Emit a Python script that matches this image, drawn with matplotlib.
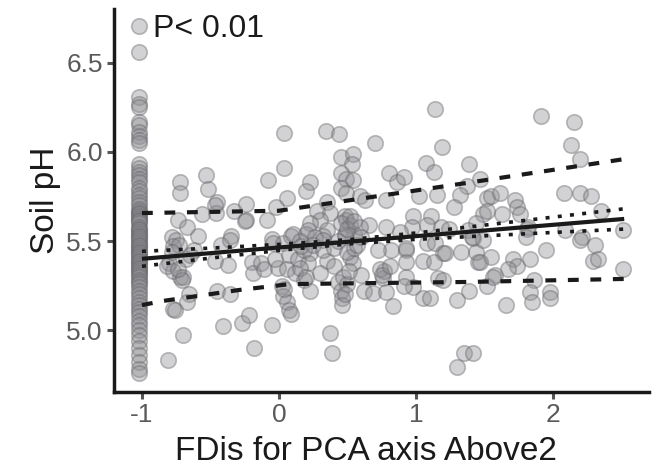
import numpy as np
import matplotlib
matplotlib.use("Agg")
import matplotlib.pyplot as plt

plt.rcParams['font.family'] = ['Liberation Sans', 'DejaVu Sans']

# sites with FDis at the lower bound (column at x ~ -1)
col_x = -1.02
col_y = [6.71, 6.56, 6.31, 6.27, 6.25, 6.17, 6.15, 6.11, 6.09, 6.07, 6.05,
         5.93, 5.91, 5.89, 5.87, 5.85, 5.83, 5.80, 5.78, 5.76, 5.74, 5.72,
         5.70, 5.68, 5.67, 5.66, 5.65, 5.64, 5.63, 5.62, 5.61, 5.60, 5.58,
         5.57, 5.56, 5.55, 5.54, 5.53, 5.52, 5.51, 5.50, 5.49, 5.48, 5.47,
         5.46, 5.45, 5.44, 5.43, 5.42, 5.41, 5.40, 5.39, 5.38, 5.37, 5.36,
         5.35, 5.34, 5.33, 5.32, 5.31, 5.30, 5.28, 5.27, 5.26, 5.24, 5.22,
         5.20, 5.18, 5.16, 5.14, 5.12, 5.10, 5.08, 5.05, 5.03, 5.00, 4.97,
         4.94, 4.90, 4.86, 4.82, 4.78, 4.76]

# remaining sites
pts_x = [-0.72, -0.53, -0.52, -0.72, -0.45, -0.56, -0.46, -0.74, -0.67, -0.59,
         -0.78, -0.35, -0.33, -0.47, -0.75, -0.77, -0.73, -0.80, -0.77, -0.72,
         -0.70, -0.82, -0.47, -0.37, -0.42, -0.36, -0.45, -0.36, -0.66, -0.67,
         -0.77, -0.76, -0.41, -0.70, -0.81, -0.62, -0.68, -0.65, -0.71, -0.78,
         -0.74, -0.24, -0.24, -0.02, 0.06, -0.09, -0.08, 0.04, 0.04, -0.05,
         -0.25, -0.27, -0.22, -0.05, -0.18, -0.20, -0.19, -0.13, -0.11, -0.04,
         0.03, -0.005, 0.02, 0.03, 0.06, 0.07, 0.09, -0.03, 0.09, 0.07,
         0.06, 0.04,
         0.34, 0.44, 0.70, 0.45, 0.54, 0.53, 0.45, 0.49, 0.54, 0.23,
         0.20, 0.45, 0.49, 0.59, 0.63, 0.35, 0.28, 0.37, 0.30, 0.23,
         0.10, 0.20, 0.35, 0.48, 0.52, 0.48, 0.55, 0.66, 0.14, 0.23,
         0.21, 0.12, 0.18, 0.23, 0.32, 0.48, 0.35, 0.40, 0.30, 0.43,
         0.45, 0.46, 0.46, 0.52, 0.54, 0.60, 0.62, 0.69, 0.37, 0.39,
         0.49, 0.52, 0.59, 0.21, 0.26, 0.32, 0.18, 0.32, 0.40, 0.50,
         0.55, 0.57, 0.45, 0.50, 0.55, 0.60, 0.43, 0.47, 0.50, 0.48,
         0.51, 0.76, 0.77, 0.15, 0.16, 0.25, 0.15, 0.20,
         0.80, 0.86, 0.91, 1.07, 1.13, 0.78, 1.02, 1.15, 0.98, 1.11,
         0.97, 1.08, 0.78, 0.74, 0.75, 0.81, 0.78, 0.83, 0.82, 0.93,
         0.93, 1.05, 0.93, 0.98, 0.91, 1.05, 1.08, 1.14, 1.20, 1.13,
         1.16, 1.20, 1.10, 0.93, 1.14, 1.19, 1.18, 0.72, 0.88,
         1.39, 1.37, 1.47, 1.32, 1.28, 1.52, 1.55, 1.61, 1.72, 1.74,
         1.76, 1.63, 1.49, 1.52, 1.44, 1.38, 1.24, 1.55, 1.45, 1.44,
         1.33, 1.58, 1.52, 1.39, 1.56, 1.30, 1.35, 1.42, 1.30, 1.71,
         1.74, 1.67, 1.66, 1.42, 1.49, 1.47, 1.41, 1.21,
         1.91, 2.15, 2.13, 2.20, 2.08, 2.20, 2.28, 2.35, 1.81, 2.09,
         2.21, 2.51, 2.51, 2.20, 2.31, 2.29, 2.33, 1.95, 1.83, 1.86,
         1.83, 1.85, 1.98, 1.98, 1.82, 1.80]
pts_y = [5.83, 5.87, 5.79, 5.77, 5.72, 5.65, 5.66, 5.62, 5.58, 5.53,
         5.52, 5.53, 5.67, 5.70, 5.505, 5.47, 5.48, 5.375, 5.33, 5.30,
         5.30, 5.36, 5.39, 5.365, 5.48, 5.505, 5.22, 5.20, 5.20, 5.16,
         5.12, 5.11, 5.02, 4.97, 4.83, 5.45, 5.40, 5.42, 5.28, 5.44,
         5.34, 5.71, 5.62, 5.69, 5.74, 5.62, 5.84, 6.105, 5.91, 5.51,
         5.61, 5.04, 5.085, 5.03, 4.90, 5.38, 5.32, 5.375, 5.34, 5.49,
         5.49, 5.35, 5.25, 5.19, 5.16, 5.11, 5.09, 5.40, 5.53, 5.42,
         5.34, 5.23,
         6.12, 6.10, 6.05, 5.97, 5.99, 5.93, 5.88, 5.85, 5.84, 5.83,
         5.78, 5.80, 5.77, 5.75, 5.73, 5.72, 5.67, 5.66, 5.62, 5.60,
         5.54, 5.54, 5.56, 5.64, 5.59, 5.54, 5.54, 5.59, 5.40, 5.43,
         5.375, 5.32, 5.28, 5.22, 5.53, 5.53, 5.39, 5.36, 5.32, 5.27,
         5.22, 5.18, 5.14, 5.41, 5.375, 5.31, 5.22, 5.21, 4.985, 4.87,
         5.62, 5.64, 5.58, 5.56, 5.52, 5.505, 5.45, 5.45, 5.46, 5.44,
         5.46, 5.48, 5.60, 5.57, 5.61, 5.52, 5.50, 5.30, 5.26, 5.20,
         5.33, 5.29, 5.33, 5.50, 5.47, 5.48, 5.35, 5.30,
         5.88, 5.83, 5.86, 5.94, 5.89, 5.73, 5.75, 5.76, 5.64, 5.64,
         5.58, 5.59, 5.58, 5.34, 5.31, 5.36, 5.215, 5.135, 5.45, 5.45,
         5.38, 5.39, 5.30, 5.24, 5.25, 5.18, 5.49, 5.49, 5.43, 5.38,
         5.29, 5.28, 5.18, 5.46, 6.24, 6.03, 5.58, 5.45, 5.55,
         5.93, 5.81, 5.85, 5.76, 5.69, 5.74, 5.75, 5.77, 5.73, 5.69,
         5.65, 5.65, 5.65, 5.67, 5.60, 5.56, 5.57, 5.41, 5.38, 5.44,
         5.44, 5.31, 5.25, 5.22, 5.30, 5.17, 4.87, 4.87, 4.79, 5.40,
         5.36, 5.34, 5.14, 5.515, 5.505, 5.38, 5.52, 5.43,
         6.20, 6.17, 6.04, 5.96, 5.77, 5.77, 5.75, 5.67, 5.57, 5.56,
         5.52, 5.56, 5.34, 5.505, 5.48, 5.39, 5.40, 5.45, 5.40, 5.28,
         5.215, 5.16, 5.215, 5.18, 5.58, 5.52]

# fitted lines, read at a few x positions
fit_x = [-1.0, 2.52]
fit_y = [5.40, 5.624]
ci_x = [-1.0, -0.5, 0.0, 0.5, 1.0, 1.5, 2.0, 2.52]
ci_hi = [5.442, 5.460, 5.481, 5.507, 5.545, 5.589, 5.634, 5.681]
ci_lo = [5.358, 5.404, 5.447, 5.483, 5.509, 5.529, 5.548, 5.567]
qhi_x = [-1.0, 0.0, 1.37, 2.52]
qhi_y = [5.657, 5.67, 5.826, 5.96]
qlo_x = [-1.0, -0.85, -0.29, 0.08, 1.37, 2.52]
qlo_y = [5.14, 5.163, 5.225, 5.258, 5.27, 5.287]

fig = plt.figure(figsize=(6.53, 4.73), dpi=100)
ax = fig.add_axes([114/653, 81/473, 535/653, 383/473])

allx = [col_x] * len(col_y) + pts_x
ally = col_y + pts_y
ax.scatter(allx, ally, s=125, facecolors=(0.56, 0.56, 0.58, 0.4),
           edgecolors=(0.38, 0.38, 0.40, 0.4), linewidths=1.2, zorder=2)

ax.plot(fit_x, fit_y, color='#1a1a1a', lw=3.0, solid_capstyle='butt', zorder=3)
ax.plot(ci_x, ci_hi, color='#1a1a1a', lw=2.6, dashes=(1.1, 2.3), zorder=3)
ax.plot(ci_x, ci_lo, color='#1a1a1a', lw=2.6, dashes=(1.1, 2.3), zorder=3)
ax.plot(qhi_x, qhi_y, color='#1a1a1a', lw=3.0, dashes=(2.6, 2.8), zorder=3)
ax.plot(qlo_x, qlo_y, color='#1a1a1a', lw=3.0, dashes=(2.6, 2.8), zorder=3)

ax.text(-0.92, 6.646, 'P< 0.01', fontsize=23, color='#1a1a1a',
        ha='left', va='baseline')

ax.set_xlim(-1.204, 2.701)
ax.set_ylim(4.652, 6.803)
ax.set_xticks([-1, 0, 1, 2])
ax.set_xticklabels(['-1', '0', '1', '2'])
ax.set_yticks([5.0, 5.5, 6.0, 6.5])
ax.set_yticklabels(['5.0', '5.5', '6.0', '6.5'])

for s in ['top', 'right']:
    ax.spines[s].set_visible(False)
for s in ['left', 'bottom']:
    ax.spines[s].set_linewidth(2.5)
    ax.spines[s].set_color('#1a1a1a')
ax.tick_params(axis='both', length=5, width=2.2, color='#555555',
               labelsize=19, labelcolor='#5a5a5a', pad=3)

ax.set_xlabel('FDis for PCA axis Above2', fontsize=24, color='#1a1a1a')
ax.set_ylabel('Soil pH', fontsize=24, color='#1a1a1a')
ax.xaxis.set_label_coords(0.47, -0.115)
ax.yaxis.set_label_coords(-0.10, 0.50)

fig.savefig('out.png', dpi=100)
